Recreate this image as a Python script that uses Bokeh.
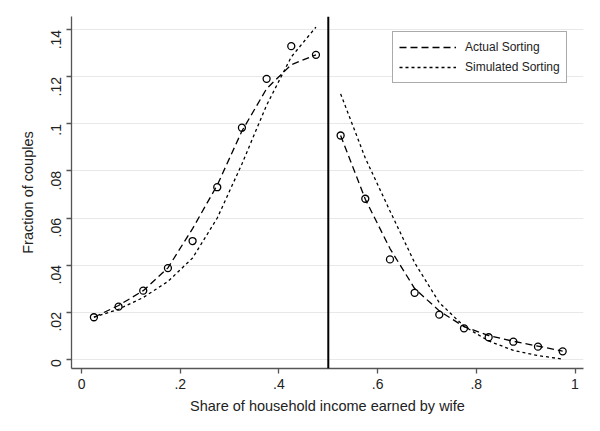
import math
from bokeh.plotting import figure
from bokeh.models import (Range1d, FixedTicker, Span, Legend, LegendItem,
                          ColumnDataSource)
from bokeh.embed import file_html
from bokeh.resources import INLINE

# ---------------- data ----------------
bin_centers_left = [0.025, 0.075, 0.125, 0.175, 0.225, 0.275, 0.325, 0.375, 0.425, 0.475]
bin_centers_right = [0.525, 0.575, 0.625, 0.675, 0.725, 0.775, 0.825, 0.875, 0.925, 0.975]

# observed fractions (hollow circles)
actual_points_left = [0.0178, 0.0223, 0.0291, 0.0387, 0.0502, 0.0731, 0.0984, 0.1192, 0.1331, 0.1294]
actual_points_right = [0.0951, 0.0682, 0.0424, 0.0282, 0.0189, 0.0131, 0.0093, 0.0074, 0.0053, 0.0033]

# smoothed "Actual Sorting" curve (dashed)
actual_fit_left = [0.0178, 0.0228, 0.0291, 0.0388, 0.0555, 0.0740, 0.0970, 0.1150, 0.1252, 0.1294]
actual_fit_right = [0.0951, 0.0680, 0.0470, 0.0300, 0.0205, 0.0138, 0.0100, 0.0076, 0.0055, 0.0034]

# "Simulated Sorting" curve (dotted)
simulated_left = [0.0178, 0.0212, 0.0262, 0.0330, 0.0430, 0.0600, 0.0830, 0.1080, 0.1285, 0.1412]
simulated_right = [0.1128, 0.0855, 0.0630, 0.0410, 0.0240, 0.0140, 0.0077, 0.0037, 0.0015, 0.0000]

divider_x = 0.5

x_ticks = [0, 0.2, 0.4, 0.6, 0.8, 1.0]
x_tick_labels = ["0", ".2", ".4", ".6", ".8", "1"]
y_ticks = [0, 0.02, 0.04, 0.06, 0.08, 0.1, 0.12, 0.14]
y_tick_labels = ["0", ".02", ".04", ".06", ".08", ".1", ".12", ".14"]

x_title = "Share of household income earned by wife"
y_title = "Fraction of couples"
legend_labels = ["Actual Sorting", "Simulated Sorting"]

# ---------------- figure ----------------
FONT = "Liberation Sans"
INK = "#222222"

p = figure(width=592, height=423, output_backend="svg", toolbar_location=None,
           x_range=Range1d(-0.0204, 1.0172), y_range=Range1d(-0.0040, 0.1457),
           min_border_left=71, min_border_right=9, min_border_top=16,
           min_border_bottom=55)
p.outline_line_color = None
p.background_fill_color = "white"
p.border_fill_color = "white"

p.xgrid.grid_line_color = None
p.ygrid.grid_line_color = "#e8e8e8"
p.ygrid.grid_line_width = 1
p.ygrid.ticker = FixedTicker(ticks=y_ticks)

for ax, ticks, labels in ((p.xaxis[0], x_ticks, x_tick_labels),
                          (p.yaxis[0], y_ticks, y_tick_labels)):
    ax.ticker = FixedTicker(ticks=ticks)
    ax.major_label_overrides = {t: l for t, l in zip(ticks, labels)}
    ax.minor_tick_line_color = None
    ax.axis_line_color = "#555555"
    ax.axis_line_width = 1.3
    ax.major_tick_line_color = "#555555"
    ax.major_tick_line_width = 1.3
    ax.major_tick_out = 5
    ax.major_tick_in = 0
    ax.major_label_text_font = FONT
    ax.major_label_text_font_size = "14px"
    ax.major_label_text_color = INK
    ax.axis_label_text_font = FONT
    ax.axis_label_text_font_size = "14.5px"
    ax.axis_label_text_font_style = "normal"
    ax.axis_label_text_color = INK

p.xaxis.axis_label = x_title
p.yaxis.axis_label = y_title
p.yaxis.major_label_orientation = math.pi / 2
p.xaxis.major_label_standoff = 5
p.yaxis.major_label_standoff = 10
p.xaxis.axis_label_standoff = 6
p.yaxis.axis_label_standoff = 8

# reference line at one half
p.add_layout(Span(location=divider_x, dimension="height",
                  line_color="black", line_width=2))

DASH = "7 4"
DOT = "3 3"
LW = 1.3

src_l = ColumnDataSource(dict(x=bin_centers_left, pts=actual_points_left,
                              fit=actual_fit_left, sim=simulated_left))
src_r = ColumnDataSource(dict(x=bin_centers_right, pts=actual_points_right,
                              fit=actual_fit_right, sim=simulated_right))

fit_renderers = []
sim_renderers = []
for src in (src_l, src_r):
    r_fit = p.line("x", "fit", source=src, line_color="black", line_width=LW,
                   line_dash=DASH)
    r_sim = p.line("x", "sim", source=src, line_color="black", line_width=LW,
                   line_dash=DOT)
    p.scatter("x", "pts", source=src, marker="circle", size=7,
              fill_color=None, line_color="black", line_width=1.3)
    fit_renderers.append(r_fit)
    sim_renderers.append(r_sim)

legend = Legend(items=[LegendItem(label=legend_labels[0], renderers=[fit_renderers[0]]),
                       LegendItem(label=legend_labels[1], renderers=[sim_renderers[0]])],
                location=(321, 285), margin=0, padding=6, spacing=2,
                glyph_width=57, glyph_height=18, label_height=18,
                label_standoff=9,
                label_text_font=FONT, label_text_font_size="12px",
                label_text_color=INK,
                border_line_color="#555555", border_line_width=1,
                background_fill_color="white", background_fill_alpha=1)
p.add_layout(legend, "center")

open("out.html", "w").write(file_html(p, INLINE))
